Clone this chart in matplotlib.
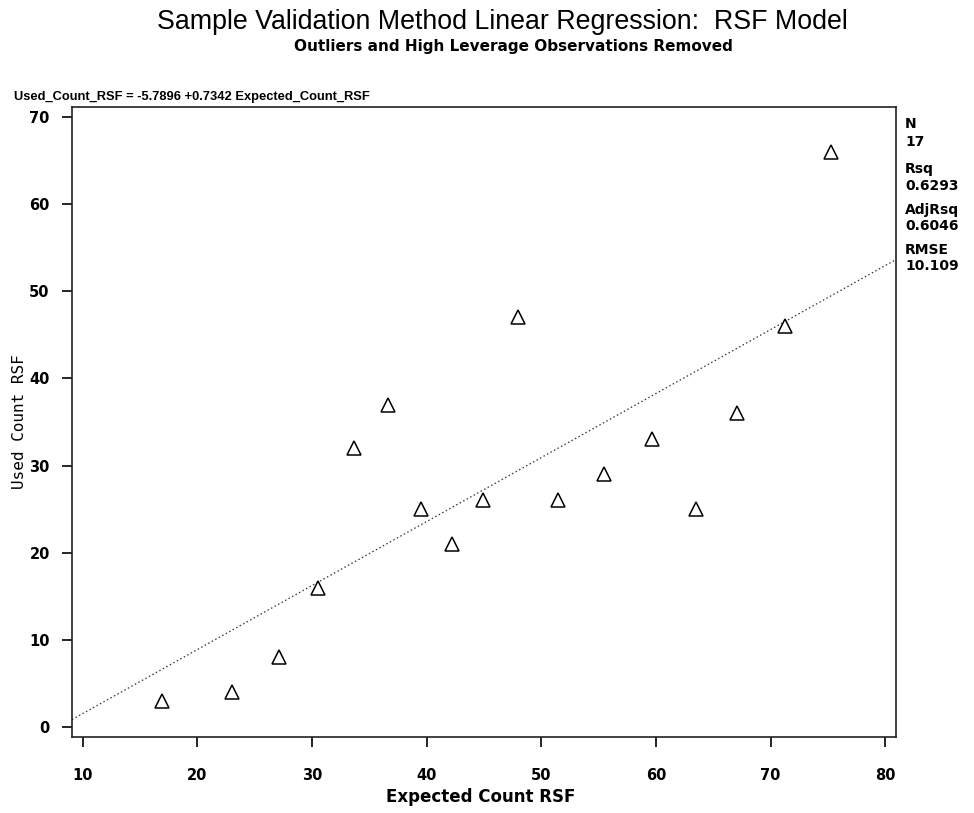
import numpy as np
import matplotlib
matplotlib.use("Agg")
import matplotlib.pyplot as plt

# data
expected = [16.9, 23.0, 27.1, 30.5, 33.7, 36.6, 39.5, 42.2, 44.9, 48.0,
            51.5, 55.5, 59.7, 63.5, 67.1, 71.3, 75.3]
used = [3, 4, 8, 16, 32, 37, 25, 21, 26, 47, 26, 29, 33, 25, 36, 46, 66]

intercept = -5.7896
slope = 0.7342

stat_names = ["N", "Rsq", "AdjRsq", "RMSE"]
stat_values = ["17", "0.6293", "0.6046", "10.109"]

xticks = [10, 20, 30, 40, 50, 60, 70, 80]
yticks = [0, 10, 20, 30, 40, 50, 60, 70]

W, H = 974, 813
fig = plt.figure(figsize=(W / 100, H / 100), dpi=100)
ax = fig.add_axes([72 / W, 1 - 737 / H, (896 - 72) / W, (737 - 107) / H])

# regression line (dotted)
ax.axline((0, intercept), slope=slope, color="#333333", lw=0.9,
          ls=(0, (1.2, 2.0)))

# observations as open triangles
ax.plot(expected, used, ls="none", marker="^", ms=9.5, mfc="white",
        mec="black", mew=1.1)

ax.set_xlim(9.05, 80.95)
ax.set_ylim(-1.15, 71.15)
ax.set_xticks(xticks)
ax.set_yticks(yticks)
ax.tick_params(axis="x", length=7, width=1.2, pad=15, labelsize=10.5)
ax.tick_params(axis="y", length=7, width=1.2, pad=9, labelsize=10.5)
for lab in ax.get_xticklabels() + ax.get_yticklabels():
    lab.set_fontweight("bold")
for sp in ax.spines.values():
    sp.set_linewidth(1.2)
    sp.set_color("#222222")

# titles
fig.text(502 / W, 1 - 22 / H, "Sample Validation Method Linear Regression:  RSF Model",
         ha="center", va="center", fontsize=19.3, family="Liberation Sans")
fig.text(513 / W, 1 - 46 / H, "Outliers and High Leverage Observations Removed",
         ha="center", va="center", fontsize=11, fontweight="bold")

# fitted equation
fig.text(14 / W, 1 - 97 / H,
         f"Used_Count_RSF = {intercept:.4f} +{slope:.4f} Expected_Count_RSF",
         ha="left", va="center", fontsize=9.3, fontweight="bold",
         family="Liberation Sans")

# axis labels
fig.text(481 / W, 1 - 797 / H, "Expected Count RSF", ha="center", va="center",
         fontsize=12, fontweight="bold")
fig.text(20 / W, 1 - 422 / H, "Used Count RSF", ha="center", va="center",
         rotation=90, fontsize=11.5, family="DejaVu Sans Mono")

# fit statistics on the right
name_y = [124, 169, 210, 250]
val_y = [142, 186, 226, 266]
for nm, val, ny, vy in zip(stat_names, stat_values, name_y, val_y):
    fig.text(905 / W, 1 - ny / H, nm, ha="left", va="center",
             fontsize=10, fontweight="bold")
    fig.text(905 / W, 1 - vy / H, val, ha="left", va="center",
             fontsize=10, fontweight="bold")

fig.savefig("out.png", dpi=100, facecolor="white")
